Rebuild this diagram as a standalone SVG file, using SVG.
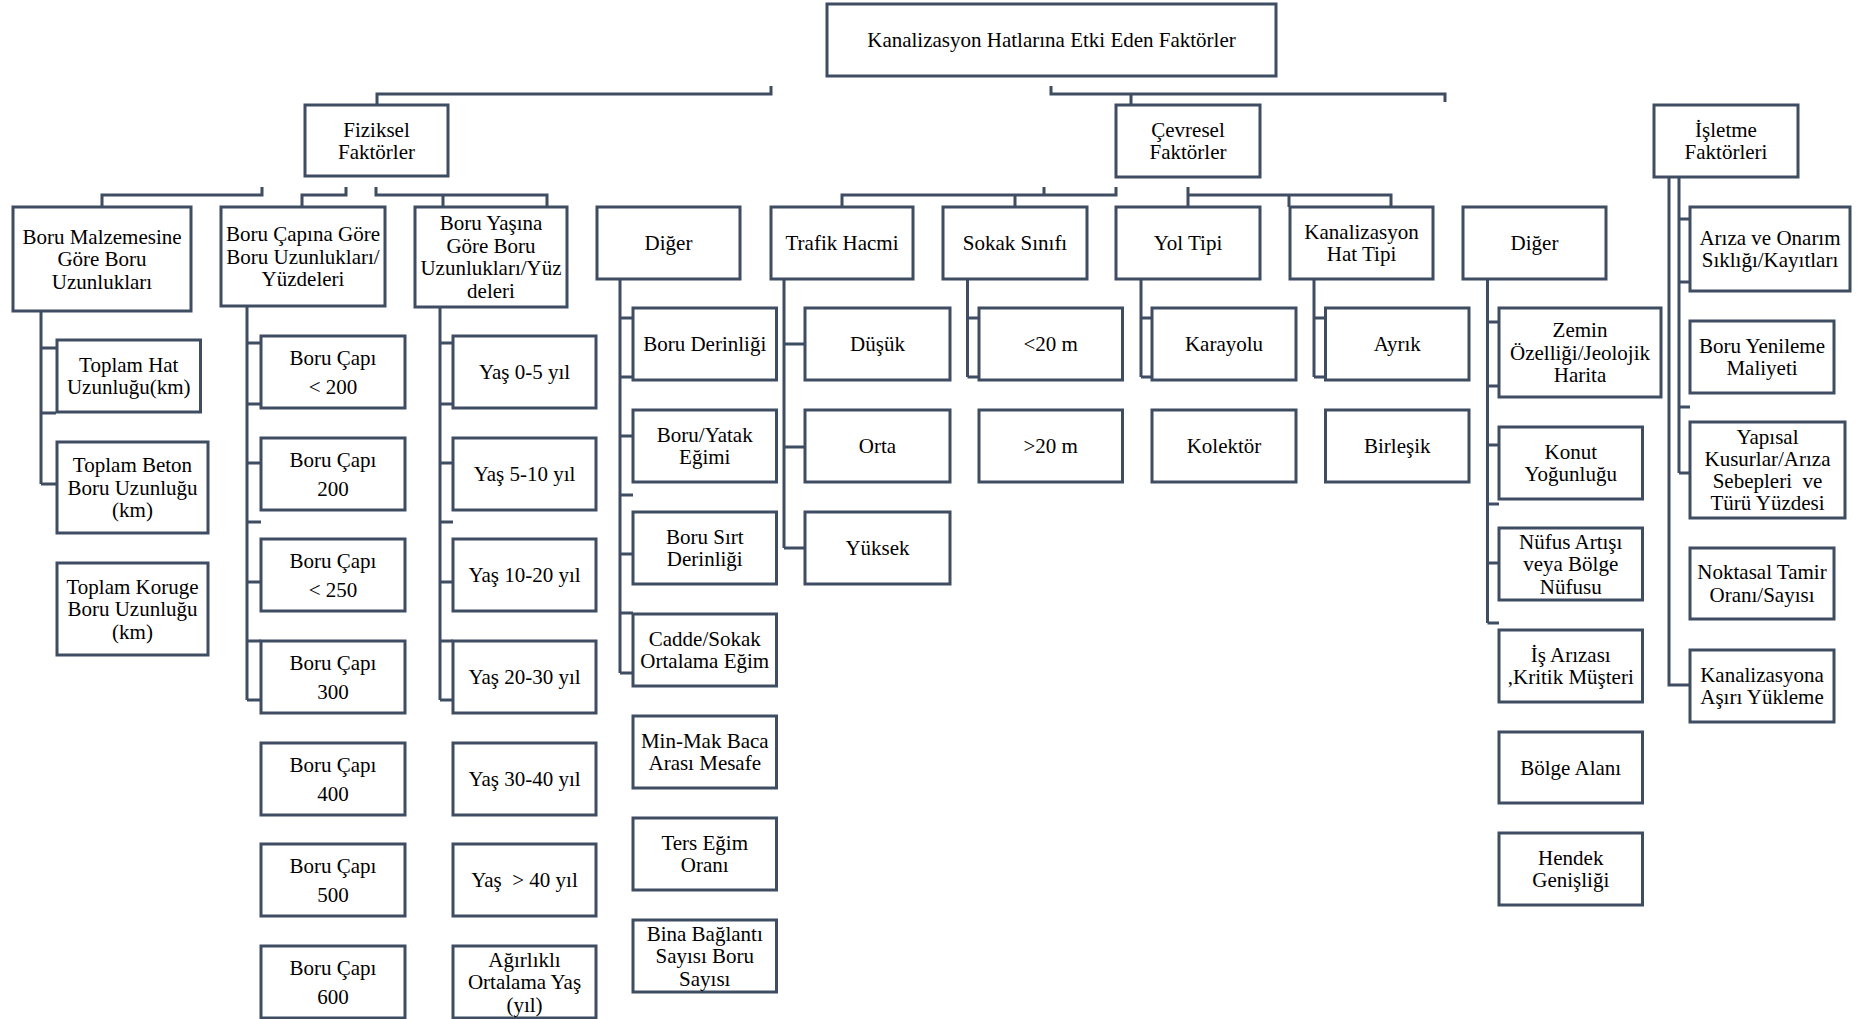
<svg xmlns="http://www.w3.org/2000/svg" width="1859" height="1019" viewBox="0 0 1859 1019">
<style>
.b{fill:#fff;stroke:#3f4d62;stroke-width:3}
.c{fill:none;stroke:#3f4d62;stroke-width:3}
text{font-family:"Liberation Serif","Times New Roman",serif;font-size:21px;fill:#000;text-anchor:middle}
</style>
<rect width="1859" height="1019" fill="#fff"/>
<g id="connectors" class="c">
<path d="M771,86V94H377V105"/>
<path d="M1051,86V94H1445V102M1131,94V105"/>
<path d="M262,187V195H102V207"/>
<path d="M346,187V195H302V207"/>
<path d="M376,187V195H547V207M443,195V207"/>
<path d="M1044,187V195M1116,187V195H842V207M1015,195V207"/>
<path d="M1188,187V207M1188,195H1391V207M1289,195V207"/>
<path d="M41,311V484M41,348H57M41,413H56M41,484H57"/>
<path d="M247,306V700M247,343H261M247,404H261M247,463H261M247,522H261M247,582H261M247,641H261M247,700H261"/>
<path d="M440,307V700M440,343H453M440,404H453M440,463H453M440,522H453M440,582H453M440,641H453M440,700H453"/>
<path d="M620,279V673M620,318H633M620,377H633M620,436H633M620,495H633M620,554H633M620,613H633M620,673H633"/>
<path d="M784,279V548M784,344H805M784,447H805M784,548H805"/>
<path d="M967.5,279V377M967.5,318H979M967.5,377H979"/>
<path d="M1141,279V377M1141,318H1152M1141,377H1152"/>
<path d="M1314,279V377M1314,318H1325.5M1314,377H1325.5"/>
<path d="M1487.5,279V623M1487.5,322H1499M1487.5,386H1499M1487.5,445H1499M1487.5,504H1499M1487.5,563H1499M1487.5,623H1499"/>
<path d="M1669,177V685H1690M1679,177V473M1679,219H1690M1679,282H1690M1679,407H1690M1679,473H1690"/>
</g>
<g id="n-root"><rect class="b" x="827" y="4" width="449" height="72"/><text x="1051.5" y="47">Kanalizasyon Hatlarına Etki Eden Faktörler</text></g>
<g id="n-fiziksel"><rect class="b" x="305" y="105" width="143" height="71"/><text><tspan x="376.5" y="136.5">Fiziksel</tspan><tspan x="376.5" y="159">Faktörler</tspan></text></g>
<g id="n-cevresel"><rect class="b" x="1116" y="105" width="144" height="72"/><text><tspan x="1188" y="136.75">Çevresel</tspan><tspan x="1188" y="159.25">Faktörler</tspan></text></g>
<g id="n-isletme"><rect class="b" x="1654" y="105" width="144" height="72"/><text><tspan x="1726" y="136.75">İşletme</tspan><tspan x="1726" y="159.25">Faktörleri</tspan></text></g>

<g id="n-malzeme"><rect class="b" x="13" y="207" width="178" height="104"/><text><tspan x="102" y="243.5">Boru Malzemesine</tspan><tspan x="102" y="266">Göre Boru</tspan><tspan x="102" y="288.5">Uzunlukları</tspan></text></g>
<g id="n-cap"><rect class="b" x="221" y="207" width="164" height="99"/><text><tspan x="303" y="241">Boru Çapına Göre</tspan><tspan x="303" y="263.5">Boru Uzunlukları/</tspan><tspan x="303" y="286">Yüzdeleri</tspan></text></g>
<g id="n-yas"><rect class="b" x="415" y="207" width="152" height="100"/><text><tspan x="491" y="230.25">Boru Yaşına</tspan><tspan x="491" y="252.75">Göre Boru</tspan><tspan x="491" y="275.25">Uzunlukları/Yüz</tspan><tspan x="491" y="297.75">deleri</tspan></text></g>
<g id="n-diger1"><rect class="b" x="597" y="207" width="143" height="72"/><text x="668.5" y="250">Diğer</text></g>
<g id="n-trafik"><rect class="b" x="771" y="207" width="142" height="72"/><text x="842" y="250">Trafik Hacmi</text></g>
<g id="n-sokak"><rect class="b" x="943" y="207" width="144" height="72"/><text x="1015" y="250">Sokak Sınıfı</text></g>
<g id="n-yol"><rect class="b" x="1116" y="207" width="144" height="72"/><text x="1188" y="250">Yol Tipi</text></g>
<g id="n-hattipi"><rect class="b" x="1290" y="207" width="143" height="72"/><text><tspan x="1361.5" y="238.75">Kanalizasyon</tspan><tspan x="1361.5" y="261.25">Hat Tipi</tspan></text></g>
<g id="n-diger2"><rect class="b" x="1463" y="207" width="143" height="72"/><text x="1534.5" y="250">Diğer</text></g>
<g id="n-ariza"><rect class="b" x="1690" y="207" width="160" height="84"/><text><tspan x="1770" y="244.75">Arıza ve Onarım</tspan><tspan x="1770" y="267.25">Sıklığı/Kayıtları</tspan></text></g>

<g id="n-toplamhat"><rect class="b" x="57" y="340" width="143.5" height="72"/><text><tspan x="128.75" y="371.75">Toplam Hat</tspan><tspan x="128.75" y="394.25">Uzunluğu(km)</tspan></text></g>
<g id="n-beton"><rect class="b" x="57" y="442" width="151" height="91"/><text><tspan x="132.5" y="472">Toplam Beton</tspan><tspan x="132.5" y="494.5">Boru Uzunluğu</tspan><tspan x="132.5" y="517">(km)</tspan></text></g>
<g id="n-koruge"><rect class="b" x="57" y="563" width="151" height="92"/><text><tspan x="132.5" y="593.5">Toplam Koruge</tspan><tspan x="132.5" y="616">Boru Uzunluğu</tspan><tspan x="132.5" y="638.5">(km)</tspan></text></g>

<g id="n-cap200a"><rect class="b" x="261" y="336" width="144" height="72"/><text><tspan x="333" y="364.5">Boru Çapı</tspan><tspan x="333" y="393.5">&lt; 200</tspan></text></g>
<g id="n-cap200"><rect class="b" x="261" y="438" width="144" height="72"/><text><tspan x="333" y="466.5">Boru Çapı</tspan><tspan x="333" y="495.5">200</tspan></text></g>
<g id="n-cap250"><rect class="b" x="261" y="539" width="144" height="72"/><text><tspan x="333" y="567.5">Boru Çapı</tspan><tspan x="333" y="596.5">&lt; 250</tspan></text></g>
<g id="n-cap300"><rect class="b" x="261" y="641" width="144" height="72"/><text><tspan x="333" y="669.5">Boru Çapı</tspan><tspan x="333" y="698.5">300</tspan></text></g>
<g id="n-cap400"><rect class="b" x="261" y="743" width="144" height="72"/><text><tspan x="333" y="771.5">Boru Çapı</tspan><tspan x="333" y="800.5">400</tspan></text></g>
<g id="n-cap500"><rect class="b" x="261" y="844" width="144" height="72"/><text><tspan x="333" y="872.5">Boru Çapı</tspan><tspan x="333" y="901.5">500</tspan></text></g>
<g id="n-cap600"><rect class="b" x="261" y="946" width="144" height="72"/><text><tspan x="333" y="974.5">Boru Çapı</tspan><tspan x="333" y="1003.5">600</tspan></text></g>

<g id="n-yas0"><rect class="b" x="453" y="336" width="143" height="72"/><text x="524.5" y="379">Yaş 0-5 yıl</text></g>
<g id="n-yas5"><rect class="b" x="453" y="438" width="143" height="72"/><text x="524.5" y="481">Yaş 5-10 yıl</text></g>
<g id="n-yas10"><rect class="b" x="453" y="539" width="143" height="72"/><text x="524.5" y="582">Yaş 10-20 yıl</text></g>
<g id="n-yas20"><rect class="b" x="453" y="641" width="143" height="72"/><text x="524.5" y="684">Yaş 20-30 yıl</text></g>
<g id="n-yas30"><rect class="b" x="453" y="743" width="143" height="72"/><text x="524.5" y="786">Yaş 30-40 yıl</text></g>
<g id="n-yas40"><rect class="b" x="453" y="844" width="143" height="72"/><text x="524.5" y="887">Yaş&#160; &gt; 40 yıl</text></g>
<g id="n-agirlikli"><rect class="b" x="453" y="946" width="143" height="72"/><text><tspan x="524.5" y="966.5">Ağırlıklı</tspan><tspan x="524.5" y="989">Ortalama Yaş</tspan><tspan x="524.5" y="1011.5">(yıl)</tspan></text></g>

<g id="n-derinlik"><rect class="b" x="633" y="308" width="143.5" height="72"/><text x="704.75" y="351">Boru Derinliği</text></g>
<g id="n-yatak"><rect class="b" x="633" y="410" width="143.5" height="72"/><text><tspan x="704.75" y="441.75">Boru/Yatak</tspan><tspan x="704.75" y="464.25">Eğimi</tspan></text></g>
<g id="n-sirt"><rect class="b" x="633" y="512" width="143.5" height="72"/><text><tspan x="704.75" y="543.75">Boru Sırt</tspan><tspan x="704.75" y="566.25">Derinliği</tspan></text></g>
<g id="n-cadde"><rect class="b" x="633" y="614" width="143.5" height="72"/><text><tspan x="704.75" y="645.75">Cadde/Sokak</tspan><tspan x="704.75" y="668.25">Ortalama Eğim</tspan></text></g>
<g id="n-baca"><rect class="b" x="633" y="716" width="143.5" height="72"/><text><tspan x="704.75" y="747.75">Min-Mak Baca</tspan><tspan x="704.75" y="770.25">Arası Mesafe</tspan></text></g>
<g id="n-ters"><rect class="b" x="633" y="818" width="143.5" height="72"/><text><tspan x="704.75" y="849.75">Ters Eğim</tspan><tspan x="704.75" y="872.25">Oranı</tspan></text></g>
<g id="n-bina"><rect class="b" x="633" y="920" width="143.5" height="72"/><text><tspan x="704.75" y="940.5">Bina Bağlantı</tspan><tspan x="704.75" y="963">Sayısı Boru</tspan><tspan x="704.75" y="985.5">Sayısı</tspan></text></g>

<g id="n-dusuk"><rect class="b" x="805" y="308" width="145" height="72"/><text x="877.5" y="351">Düşük</text></g>
<g id="n-orta"><rect class="b" x="805" y="410" width="145" height="72"/><text x="877.5" y="453">Orta</text></g>
<g id="n-yuksek"><rect class="b" x="805" y="512" width="145" height="72"/><text x="877.5" y="555">Yüksek</text></g>

<g id="n-lt20"><rect class="b" x="979" y="308" width="143.5" height="72"/><text x="1050.75" y="351">&lt;20 m</text></g>
<g id="n-gt20"><rect class="b" x="979" y="410" width="143.5" height="72"/><text x="1050.75" y="453">&gt;20 m</text></g>

<g id="n-karayolu"><rect class="b" x="1152" y="308" width="144" height="72"/><text x="1224" y="351">Karayolu</text></g>
<g id="n-kolektor"><rect class="b" x="1152" y="410" width="144" height="72"/><text x="1224" y="453">Kolektör</text></g>

<g id="n-ayrik"><rect class="b" x="1325.5" y="308" width="143.5" height="72"/><text x="1397.25" y="351">Ayrık</text></g>
<g id="n-birlesik"><rect class="b" x="1325.5" y="410" width="143.5" height="72"/><text x="1397.25" y="453">Birleşik</text></g>

<g id="n-zemin"><rect class="b" x="1499" y="308" width="162" height="89"/><text><tspan x="1580" y="337">Zemin</tspan><tspan x="1580" y="359.5">Özelliği/Jeolojik</tspan><tspan x="1580" y="382">Harita</tspan></text></g>
<g id="n-konut"><rect class="b" x="1499" y="427" width="143.5" height="72"/><text><tspan x="1570.75" y="458.75">Konut</tspan><tspan x="1570.75" y="481.25">Yoğunluğu</tspan></text></g>
<g id="n-nufus"><rect class="b" x="1499" y="528" width="143.5" height="72"/><text><tspan x="1570.75" y="548.5">Nüfus Artışı</tspan><tspan x="1570.75" y="571">veya Bölge</tspan><tspan x="1570.75" y="593.5">Nüfusu</tspan></text></g>
<g id="n-is"><rect class="b" x="1499" y="630" width="143.5" height="72"/><text><tspan x="1570.75" y="661.75">İş Arızası</tspan><tspan x="1570.75" y="684.25">,Kritik Müşteri</tspan></text></g>
<g id="n-bolge"><rect class="b" x="1499" y="732" width="143.5" height="71"/><text x="1570.75" y="774.5">Bölge Alanı</text></g>
<g id="n-hendek"><rect class="b" x="1499" y="833" width="143.5" height="72"/><text><tspan x="1570.75" y="864.75">Hendek</tspan><tspan x="1570.75" y="887.25">Genişliği</tspan></text></g>

<g id="n-yenileme"><rect class="b" x="1690" y="321" width="144" height="72"/><text><tspan x="1762" y="352.75">Boru Yenileme</tspan><tspan x="1762" y="375.25">Maliyeti</tspan></text></g>
<g id="n-yapisal"><rect class="b" x="1690" y="422" width="155" height="96"/><text><tspan x="1767.5" y="443.5">Yapısal</tspan><tspan x="1767.5" y="465.5">Kusurlar/Arıza</tspan><tspan x="1767.5" y="487.5">Sebepleri&#160; ve</tspan><tspan x="1767.5" y="509.5">Türü Yüzdesi</tspan></text></g>
<g id="n-noktasal"><rect class="b" x="1690" y="548" width="144" height="71"/><text><tspan x="1762" y="579.25">Noktasal Tamir</tspan><tspan x="1762" y="601.75">Oranı/Sayısı</tspan></text></g>
<g id="n-asiri"><rect class="b" x="1690" y="650" width="144" height="72"/><text><tspan x="1762" y="681.75">Kanalizasyona</tspan><tspan x="1762" y="704.25">Aşırı Yükleme</tspan></text></g>
</svg>
